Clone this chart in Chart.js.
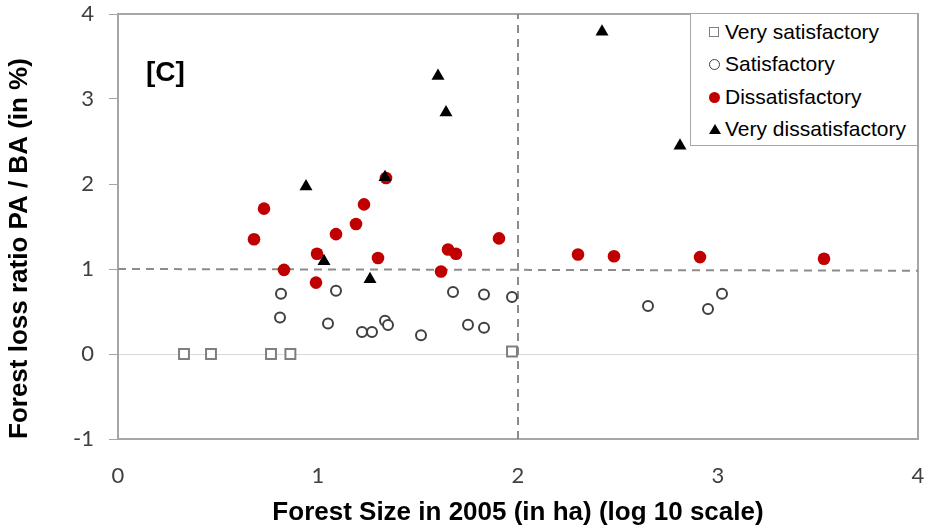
<!DOCTYPE html>
<html>
<head>
<meta charset="utf-8">
<script src="https://cdn.jsdelivr.net/npm/chart.js@4.4.0/dist/chart.umd.min.js"></script>
<style>
  html, body { margin: 0; padding: 0; background: #fff; }
  #wrap { position: relative; width: 928px; height: 531px; }
  #panelTag { position: absolute; left: 146px; top: 56px; font: bold 28px "Liberation Sans", Arial, sans-serif; color: #000; }
  #legend { position: absolute; left: 690px; top: 14px; width: 227px; height: 132px; border: 1px solid #a6a6a6; border-top: none; border-right: none; background: #fff; box-sizing: border-box; }
  .item { position: absolute; left: 0; height: 30px; font: 21px "Liberation Sans", Arial, sans-serif; color: #000; line-height: 30px; }
  .item span.txt { position: absolute; left: 34px; white-space: nowrap; }
  .mk { position: absolute; left: 18px; top: 10px; box-sizing: border-box; }
  .mk.sq { width: 10px; height: 10px; border: 1px solid #7f7f7f; background: #fff; }
  .mk.ci { width: 11px; height: 11px; border: 1px solid #404040; border-radius: 50%; background: #fff; }
  .mk.dot { width: 11px; height: 11px; border-radius: 50%; background: #c00000; }
  .mk.tri { width: 0; height: 0; border-left: 6px solid transparent; border-right: 6px solid transparent; border-bottom: 10px solid #000; }
</style>
</head>
<body>
<div id="wrap">
  <canvas id="chart" width="928" height="531"></canvas>
  <div id="panelTag">[C]</div>
  <div id="legend"></div>
</div>
<script>
// log10 forest size (x) vs forest loss ratio PA/BA in % (y)
const veryGoodX = [0.33, 0.465, 0.765, 0.862, 1.97];
const veryGoodY = [0, 0, 0, 0, 0.03];

const goodX = [0.815, 0.81, 1.09, 1.05, 1.22, 1.27, 1.335, 1.35, 1.515, 1.675, 1.75, 1.83, 1.83, 1.97, 2.65, 2.95, 3.02];
const goodY = [0.71, 0.43, 0.745, 0.36, 0.26, 0.26, 0.39, 0.34, 0.22, 0.73, 0.345, 0.70, 0.31, 0.67, 0.565, 0.53, 0.71];

const badX = [0.68, 0.73, 0.83, 0.995, 0.99, 1.09, 1.19, 1.23, 1.34, 1.30, 1.615, 1.65, 1.69, 1.905, 2.30, 2.48, 2.91, 3.53];
const badY = [1.35, 1.71, 0.99, 1.18, 0.84, 1.41, 1.53, 1.76, 2.07, 1.13, 0.97, 1.23, 1.18, 1.36, 1.17, 1.15, 1.14, 1.12];

const veryBadX = [0.94, 1.03, 1.26, 1.335, 1.60, 1.64, 2.42, 2.81];
const veryBadY = [1.97, 1.09, 0.88, 2.08, 3.27, 2.84, 3.79, 2.45];

// reference lines
const vLineX = [2, 2];
const vLineY = [-1, 4];
const hLineX = [0, 4];
const hLineY = [1.0, 0.98];

const xTicks = [0, 1, 2, 3, 4];
const yTicks = [-1, 0, 1, 2, 3, 4];

const legendNames = ["Very satisfactory", "Satisfactory", "Dissatisfactory", "Very dissatisfactory"];

const el = (id) => document.getElementById(id);
const pts = (xs, ys) => xs.map((x, i) => ({ x, y: ys[i] }));

const AXIS_GREY = "#a6a6a6";
const DASH_GREY = "#8c8c8c";
const TICK_FONT = { family: "Lato, 'Open Sans', sans-serif", size: 22 };
const TITLE_FONT = { family: "'Liberation Sans', Arial, sans-serif", size: 26, weight: "bold" };

// top + right frame of the plot area
const frame = {
  id: "frame",
  beforeDatasetsDraw(chart) {
    const { ctx, chartArea: a } = chart;
    ctx.save();
    ctx.strokeStyle = AXIS_GREY;
    ctx.lineWidth = 2;
    ctx.beginPath();
    ctx.moveTo(a.left, a.top);
    ctx.lineTo(a.right, a.top);
    ctx.lineTo(a.right, a.bottom);
    ctx.stroke();
    ctx.restore();
  }
};

const lineDs = (xs, ys) => ({
  type: "line",
  data: pts(xs, ys),
  borderColor: DASH_GREY,
  borderWidth: 2,
  borderDash: [8, 6],
  pointRadius: 0,
  fill: false,
  order: 10,
});

new Chart(el("chart").getContext("2d"), {
  type: "scatter",
  data: {
    datasets: [
      {
        label: legendNames[3], data: pts(veryBadX, veryBadY),
        pointStyle: "triangle", pointRadius: 7.5, backgroundColor: "#000", borderColor: "#000", borderWidth: 0, order: 1,
      },
      {
        label: legendNames[2], data: pts(badX, badY),
        pointStyle: "circle", pointRadius: 6.3, backgroundColor: "#c00000", borderColor: "#c00000", borderWidth: 0, order: 2,
      },
      {
        label: legendNames[1], data: pts(goodX, goodY),
        pointStyle: "circle", pointRadius: 5, backgroundColor: "#fff", borderColor: "#404040", borderWidth: 2, order: 3,
      },
      {
        label: legendNames[0], data: pts(veryGoodX, veryGoodY),
        pointStyle: "rect", pointRadius: 7, backgroundColor: "#fff", borderColor: "#7f7f7f", borderWidth: 2, order: 4,
      },
      lineDs(vLineX, vLineY),
      lineDs(hLineX, hLineY),
    ]
  },
  options: {
    responsive: false,
    animation: false,
    layout: { padding: { left: 0, right: 10, top: 14, bottom: 0 } },
    plugins: { legend: { display: false }, tooltip: { enabled: false } },
    scales: {
      x: {
        type: "linear", min: 0, max: 4,
        afterBuildTicks: (s) => { s.ticks = xTicks.map(v => ({ value: v })); },
        afterFit: (s) => { s.height = 92; s.paddingLeft = 0; s.paddingRight = 0; },
        grid: { color: "rgba(0,0,0,0)", drawTicks: false },
        border: { color: AXIS_GREY, width: 2 },
        ticks: { color: "#404040", font: TICK_FONT, padding: 24 },
        title: {
          display: true, text: "Forest Size in 2005 (in ha) (log 10 scale)",
          color: "#000", font: TITLE_FONT, padding: { top: 0, bottom: 3 }
        }
      },
      y: {
        type: "linear", min: -1, max: 4,
        afterBuildTicks: (s) => { s.ticks = yTicks.map(v => ({ value: v })); },
        afterFit: (s) => { s.width = 118; s.paddingTop = 0; s.paddingBottom = 0; },
        grid: {
          color: (c) => (c.tick && c.tick.value === 0) ? "#d9d9d9" : "rgba(0,0,0,0)",
          tickColor: AXIS_GREY, tickLength: 9, lineWidth: 1
        },
        border: { color: AXIS_GREY, width: 2 },
        ticks: { color: "#404040", font: TICK_FONT, padding: 15 },
        title: {
          display: true, text: "Forest loss ratio PA / BA (in %)", align: "start",
          color: "#000", font: TITLE_FONT, padding: { top: 4, bottom: 0 }
        }
      }
    }
  },
  plugins: [frame]
});

// legend box inside the plot
const markerClass = ["sq", "ci", "dot", "tri"];
const rowTops = [17, 49, 82, 114];
legendNames.forEach((name, i) => {
  const row = document.createElement("div");
  row.className = "item";
  row.style.top = (rowTops[i] - 14) + "px";
  row.innerHTML = '<div class="mk ' + markerClass[i] + '"></div><span class="txt">' + name + '</span>';
  el("legend").appendChild(row);
});
</script>
</body>
</html>
